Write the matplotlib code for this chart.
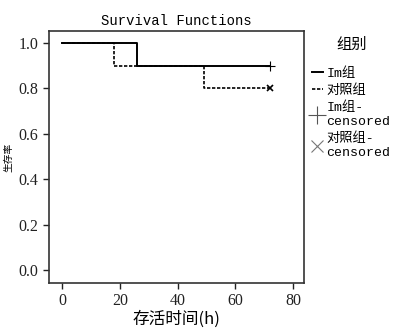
import matplotlib
matplotlib.use("Agg")
import matplotlib.pyplot as plt
from matplotlib.lines import Line2D

plt.rcParams['font.family'] = ['Liberation Serif', 'Noto Sans CJK SC', 'DejaVu Sans']

# data
im_t = [0, 26, 72]
im_s = [1.0, 0.9, 0.9]
ctl_t = [0, 18, 49, 72]
ctl_s = [1.0, 0.9, 0.8, 0.8]
im_cens_t, im_cens_s = [72], [0.9]
ctl_cens_t, ctl_cens_s = [72], [0.8]

xticks = [0, 20, 40, 60, 80]
yticks = [0.0, 0.2, 0.4, 0.6, 0.8, 1.0]

fig = plt.figure(figsize=(3.99, 3.30), dpi=100)
ax = fig.add_axes([49/399, 1 - 283/330, 255/399, 252/330])

ax.step(im_t, im_s, where='post', color='black', lw=1.4)
ax.step(ctl_t, ctl_s, where='post', color='black', lw=1.2, ls=(0, (2, 1)))
ax.plot(im_cens_t, im_cens_s, marker='+', color='black', ms=7, mew=0.8, ls='none')
ax.plot(ctl_cens_t, ctl_cens_s, marker='x', color='black', ms=4, mew=1.2, ls='none')

ax.set_xlim(-4.5, 83.8)
ax.set_ylim(-0.057, 1.053)
ax.set_xticks(xticks)
ax.set_yticks(yticks)
ax.set_yticklabels(['%.1f' % v for v in yticks])
ax.tick_params(labelsize=11.5, length=4, width=1, colors='#222222')
for s in ax.spines.values():
    s.set_linewidth(1.2)
    s.set_color('#333333')

ax.set_title('Survival Functions', family='Liberation Mono', fontsize=10, pad=4)
ax.set_xlabel('存活时间(h)', family=['Noto Sans CJK SC'], fontsize=12, labelpad=1)
ax.set_ylabel('生存率', family=['Noto Sans CJK SC'], fontsize=7, labelpad=4)

handles = [
    Line2D([], [], color='black', lw=1.4),
    Line2D([], [], color='black', lw=1.2, ls=(0, (2, 1))),
    Line2D([], [], color='#555555', marker='+', ms=13, mew=0.8, ls='none'),
    Line2D([], [], color='#777777', marker='x', ms=9, mew=0.8, ls='none'),
]
labels = ['Im组', '对照组', 'Im组-\ncensored', '对照组-\ncensored']
leg = fig.legend(handles, labels, title='组别', loc='upper left',
                 bbox_to_anchor=(312/399, 1 - 36/330), frameon=False,
                 borderpad=0, borderaxespad=0,
                 handlelength=0.8, handletextpad=0.3, labelspacing=0.35,
                 prop={'family': ['Liberation Mono', 'Noto Sans CJK SC'], 'size': 9.5})
leg.get_title().set_family(['Noto Sans CJK SC'])
leg.get_title().set_fontsize(11)
leg._legend_box.sep = 10

fig.savefig('out.png', dpi=100)
